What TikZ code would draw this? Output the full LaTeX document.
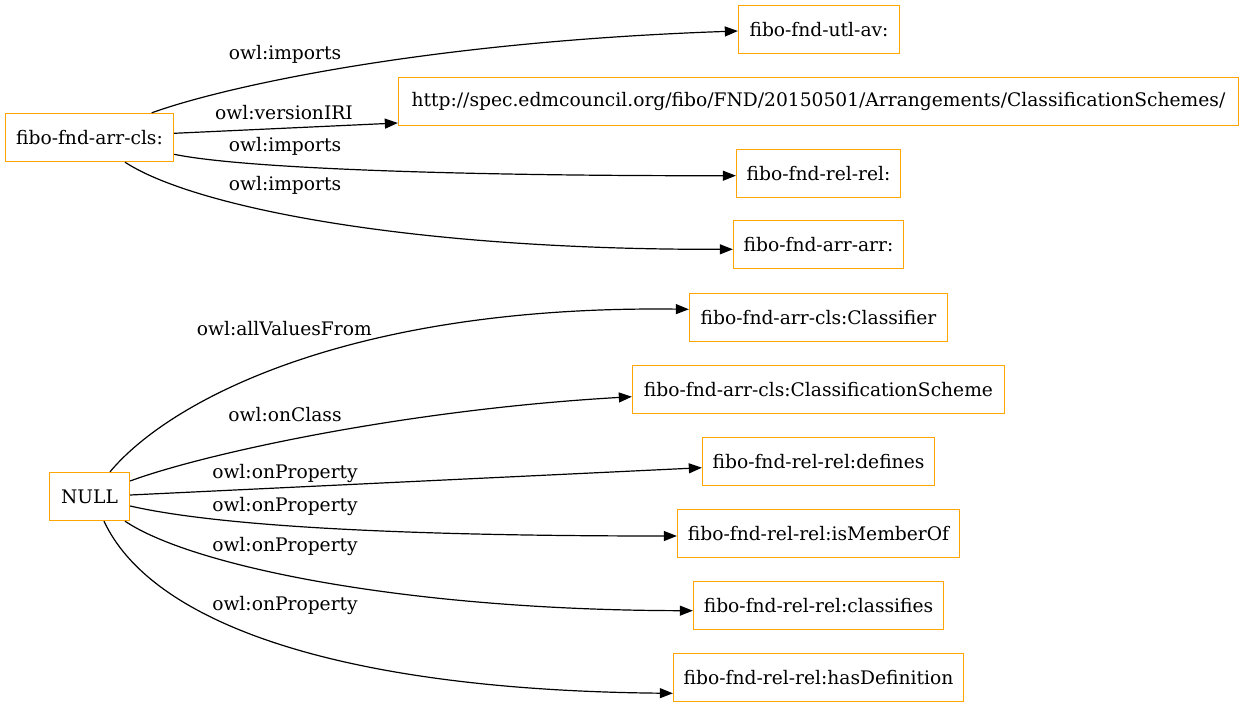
\documentclass[tikz,border=0pt]{standalone}
\usepackage{fontspec}
\setmainfont{DejaVu Serif}
\usetikzlibrary{arrows.meta}
\definecolor{gvorange}{RGB}{255,165,0}
\tikzset{
  box/.style={draw=gvorange, line width=1.33pt, inner sep=0pt, minimum height=48pt, font=\fontsize{18.67}{22}\selectfont},
  edge/.style={draw=black, line width=1.2pt, -{Triangle[length=13pt,width=10pt]}},
  lbl/.style={font=\fontsize{18.67}{22}\selectfont, inner sep=0pt}
}
\begin{document}
\begin{tikzpicture}[x=1pt,y=-1pt]
\useasboundingbox (0,0) rectangle (1245,707);
% nodes
\node[box, minimum width=168pt] (arrcls) at (89.5,137.5) {fibo-fnd-arr-cls:};
\node[box, minimum width=161pt] (utlav) at (819,29.5) {fibo-fnd-utl-av:};
\node[box, minimum width=840pt] (url) at (818.5,101.5) {http://spec.edmcouncil.org/fibo/FND/20150501/Arrangements/ClassificationSchemes/};
\node[box, minimum width=164pt] (relrel) at (818.5,173.5) {fibo-fnd-rel-rel:};
\node[box, minimum width=170pt] (arrarr) at (818.5,244.5) {fibo-fnd-arr-arr:};
\node[box, minimum width=258pt] (classifier) at (818.5,317.5) {fibo-fnd-arr-cls:Classifier};
\node[box, minimum width=372pt] (scheme) at (818.5,389.5) {fibo-fnd-arr-cls:ClassificationScheme};
\node[box, minimum width=232pt] (defines) at (818.5,461.5) {fibo-fnd-rel-rel:defines};
\node[box, minimum width=282pt] (member) at (818.5,533.5) {fibo-fnd-rel-rel:isMemberOf};
\node[box, minimum width=250pt] (classifies) at (818.5,605.5) {fibo-fnd-rel-rel:classifies};
\node[box, minimum width=290pt] (hasdef) at (818.5,677.5) {fibo-fnd-rel-rel:hasDefinition};
\node[box, minimum width=80pt] (null) at (89.5,496.5) {NULL};
% edges from fibo-fnd-arr-cls:
\draw[edge] ([xshift=62.2pt]arrcls.north) .. controls (220,88) and (420,42) .. ([yshift=-1.5pt]utlav.west);
\draw[edge] ([yshift=4.2pt]arrcls.east) -- ([yshift=-21.5pt]url.west);
\draw[edge] ([yshift=-16.8pt]arrcls.east) .. controls (240,168) and (450,176) .. ([yshift=-2.2pt]relrel.west);
\draw[edge] ([xshift=35.5pt]arrcls.south) .. controls (190,205) and (400,250) .. ([yshift=-4.8pt]arrarr.west);
% edges from NULL
\draw[edge] ([xshift=20.5pt]null.north) .. controls (170,400) and (350,305) .. ([yshift=8.2pt]classifier.west);
\draw[edge] ([yshift=15.5pt]null.east) .. controls (200,455) and (400,410) .. ([yshift=-7.2pt]scheme.west);
\draw[edge] ([yshift=1.5pt]null.east) -- ([yshift=-6.2pt]defines.west);
\draw[edge] ([yshift=-9.5pt]null.east) .. controls (200,522) and (350,536) .. ([yshift=-2.5pt]member.west);
\draw[edge] ([xshift=35.5pt]null.south) .. controls (190,565) and (400,610) .. ([yshift=-5.2pt]classifies.west);
\draw[edge] ([xshift=14.5pt]null.south) .. controls (150,620) and (330,690) .. ([yshift=-15.8pt]hasdef.west);
% labels
\node[lbl] (l1) at (285,54.3) {owl:imports};
\node[lbl] (l2) at (284,113) {owl:versionIRI};
\node[lbl] (l3) at (285,146) {owl:imports};
\node[lbl] (l4) at (285,185) {owl:imports};
\node[lbl] (l5) at (284.3,328.3) {owl:allValuesFrom};
\node[lbl] (l6) at (285,414.3) {owl:onClass};
\node[lbl] (l7) at (285,473.3) {owl:onProperty};
\node[lbl] (l8) at (285,506.7) {owl:onProperty};
\node[lbl] (l9) at (285,546) {owl:onProperty};
\node[lbl] (l10) at (285,605) {owl:onProperty};
\end{tikzpicture}
\end{document}
